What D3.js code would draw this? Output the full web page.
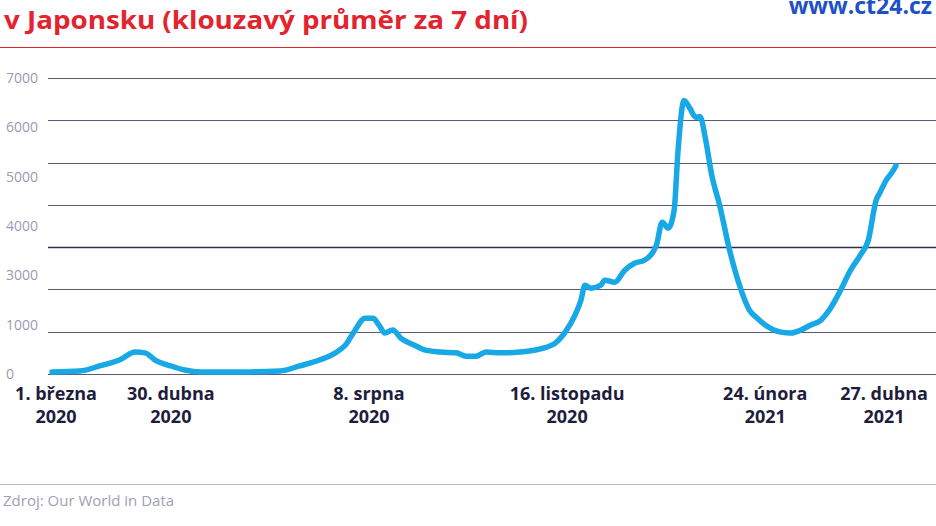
<!DOCTYPE html>
<html><head><meta charset="utf-8">
<script src="https://cdn.jsdelivr.net/npm/d3@7"></script>
<style>body{margin:0;background:#fff}svg{display:block}</style></head>
<body><svg id="c" width="936" height="526"></svg>
<script>
const startDate = new Date(2020, 2, 1);
const dayOffsets = [0,14,24,34,42,47,52,60,67,75,100,115,125,135,143,148,153,158,162,165,168,172,176,183,188,196,204,209,214,219,226,236,246,254,259,264,267,269,272,277,279,284,289,294,299,305,308,311,314,316,319,322,325,327,330,333,337,342,347,352,356,360,368,373,378,383,388,393,398,403,408,412,416,418,421,424,426];
const cases = [50,70,190,330,520,500,330,190,95,50,50,70,190,330,500,680,1040,1320,1320,1160,970,1040,850,680,570,520,500,420,420,520,500,520,590,730,990,1390,1750,2100,2030,2100,2220,2170,2450,2620,2690,3040,3590,3450,3870,5290,6470,6280,6070,6090,5520,4700,3990,2930,2100,1510,1320,1160,990,970,1040,1160,1270,1560,1980,2450,2810,3160,4110,4300,4580,4770,4930];
const gridValues = [0,1000,2000,3000,4000,5000,6000,7000];
const tickLabels = ["0","1000","3000","4000","5000","6000","7000"];
const xTickDates = [[2020,2,1],[2020,3,30],[2020,7,8],[2020,10,16],[2021,1,24],[2021,3,27]];
const xTickLines = [["1. března","2020"],["30. dubna","2020"],["8. srpna","2020"],["16. listopadu","2020"],["24. února","2021"],["27. dubna","2021"]];

const svg = d3.select("#c");
const F = "'Open Sans','Noto Sans',sans-serif";
const x = d3.scaleTime().domain([startDate, d3.timeDay.offset(startDate,426)]).range([52,896]);
const y = d3.scaleLinear().domain([0,7000]).range([374,78]);
const data = dayOffsets.map((d,i)=>({date:d3.timeDay.offset(startDate,d), v:cases[i]}));

svg.append("text").attr("x",4).attr("y",29).attr("font-family",F).attr("font-weight",700)
  .attr("font-size",25).attr("textLength",524).attr("lengthAdjust","spacingAndGlyphs").attr("fill","#e3232e").text("v Japonsku (klouzavý průměr za 7 dní)");
svg.append("text").attr("x",932).attr("y",14).attr("text-anchor","end").attr("font-family",F)
  .attr("font-weight",700).attr("font-size",23).attr("fill","#1e50c8").text("www.ct24.cz");
svg.append("line").attr("x1",0).attr("x2",936).attr("y1",47.5).attr("y2",47.5).attr("stroke","#e3232e").attr("stroke-width",1);

svg.append("g").selectAll("line").data(gridValues).join("line")
  .attr("x1",48).attr("x2",936).attr("y1",d=>Math.round(y(d))+0.5).attr("y2",d=>Math.round(y(d))+0.5)
  .attr("stroke",d=>d===3000?"#2e2e4e":"#5a5a78").attr("stroke-width",d=>d===3000?1.6:1);

const ly = d3.scalePoint().domain(tickLabels).range([374,78]);
svg.append("g").selectAll("text").data(tickLabels).join("text")
  .attr("x",6).attr("y",d=>ly(d)+5).attr("font-family",F).attr("font-size",14).attr("fill","#9a9ab4").text(d=>d);

svg.append("path").datum(data).attr("fill","none").attr("stroke","#19a8e6").attr("stroke-width",5.5)
  .attr("stroke-linejoin","round").attr("stroke-linecap","round")
  .attr("d",d3.line().x(d=>x(d.date)).y(d=>y(d.v)).curve(d3.curveMonotoneX));

const xt = svg.append("g").selectAll("text").data(xTickDates).join("text")
  .attr("text-anchor","middle").attr("font-family",F).attr("font-weight",700).attr("font-size",18).attr("fill","#1e1e3c");
xt.each(function(d,i){
  const cx = Math.max(56, Math.min(884, x(new Date(d[0],d[1],d[2]))));
  const t = d3.select(this);
  t.append("tspan").attr("x",cx).attr("y",400).text(xTickLines[i][0]);
  t.append("tspan").attr("x",cx).attr("y",423).text(xTickLines[i][1]);
});

svg.append("line").attr("x1",0).attr("x2",936).attr("y1",484.5).attr("y2",484.5).attr("stroke","#b8b8cc");
svg.append("text").attr("x",3).attr("y",506).attr("font-family",F).attr("font-size",15).attr("fill","#a0a0b4").text("Zdroj: Our World in Data");
</script></body></html>
